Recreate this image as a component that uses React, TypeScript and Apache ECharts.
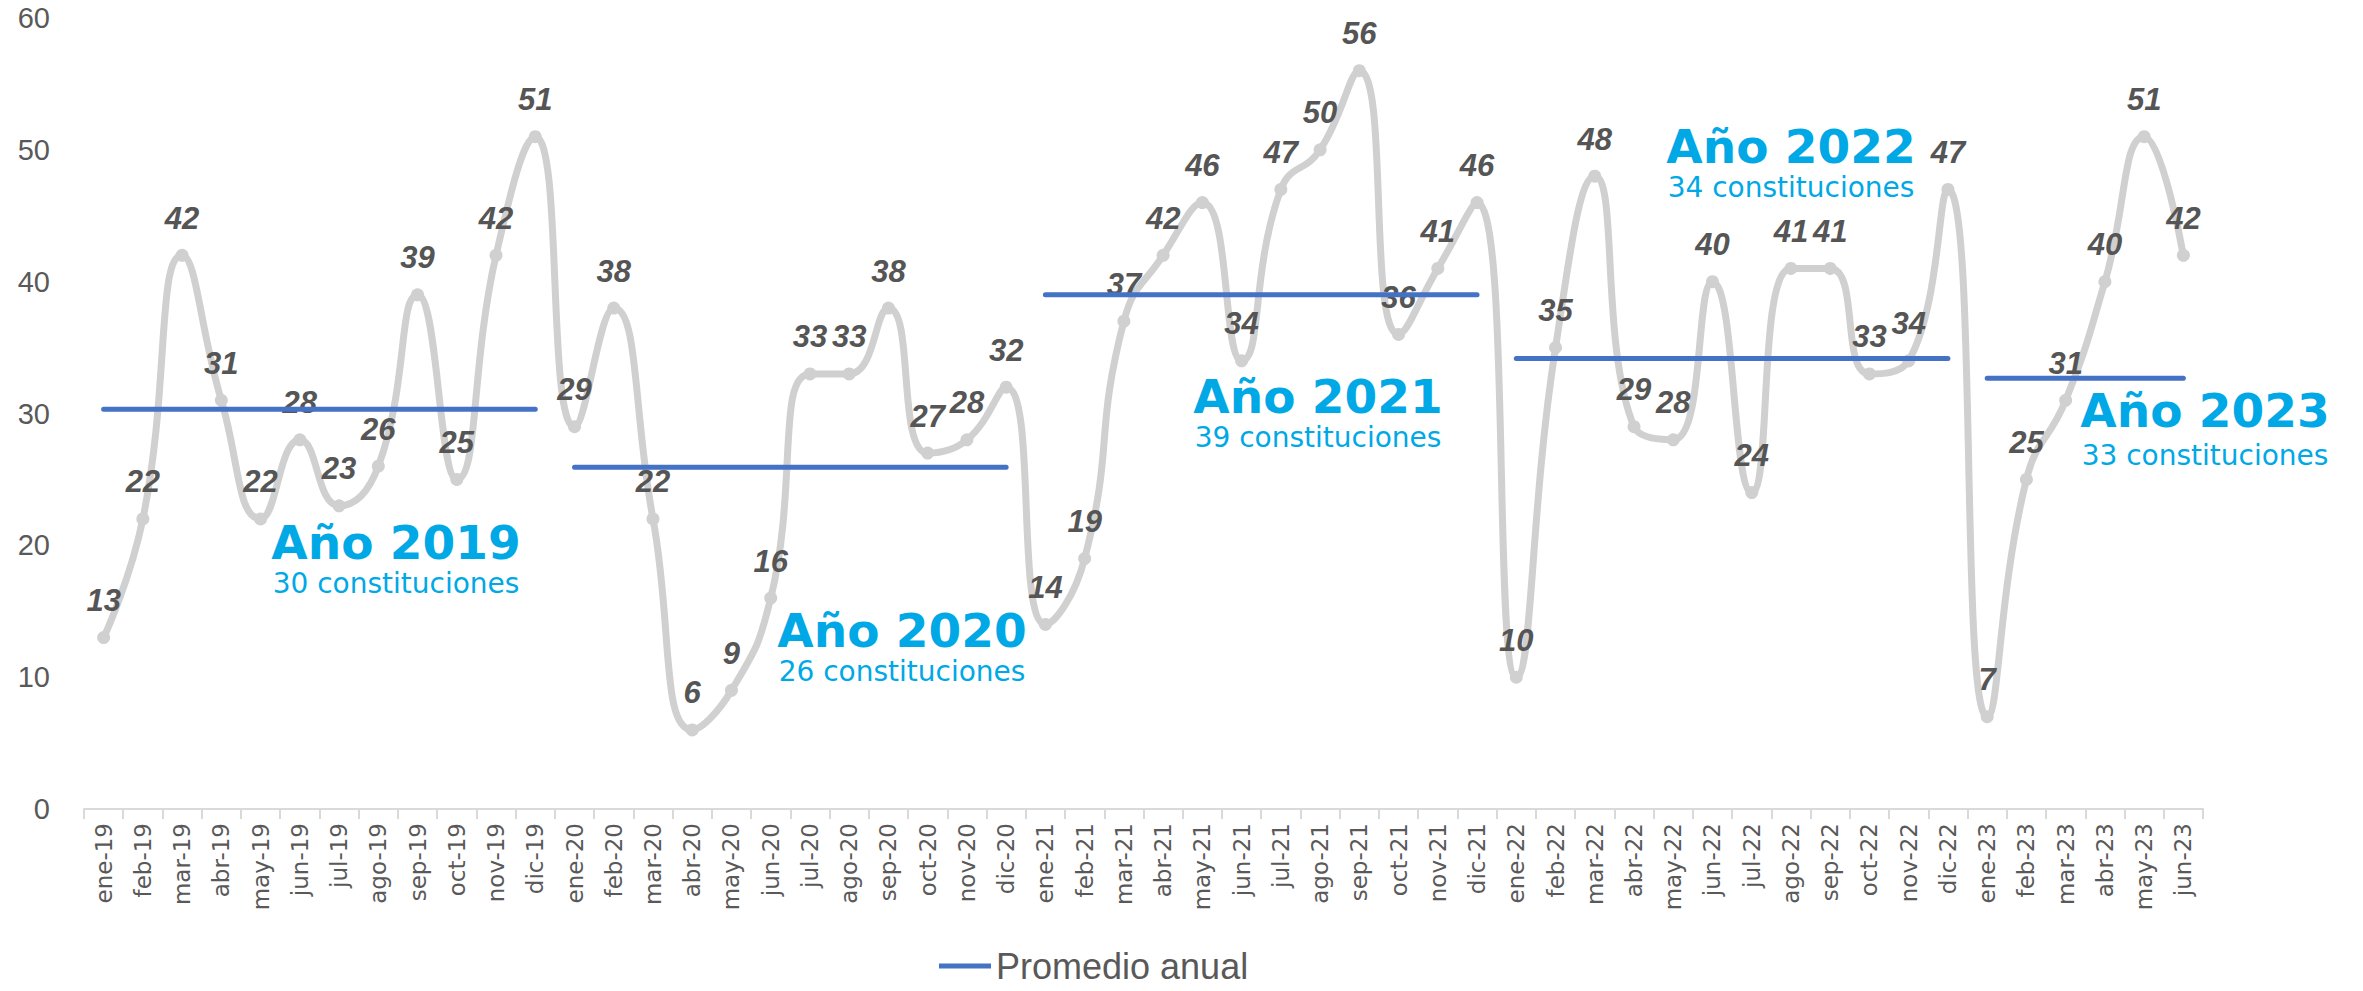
import React, { useEffect, useRef } from "react";
import * as echarts from "echarts";

const meses = [
  "ene-19","feb-19","mar-19","abr-19","may-19","jun-19","jul-19","ago-19","sep-19","oct-19","nov-19","dic-19",
  "ene-20","feb-20","mar-20","abr-20","may-20","jun-20","jul-20","ago-20","sep-20","oct-20","nov-20","dic-20",
  "ene-21","feb-21","mar-21","abr-21","may-21","jun-21","jul-21","ago-21","sep-21","oct-21","nov-21","dic-21",
  "ene-22","feb-22","mar-22","abr-22","may-22","jun-22","jul-22","ago-22","sep-22","oct-22","nov-22","dic-22",
  "ene-23","feb-23","mar-23","abr-23","may-23","jun-23",
];

const constituciones = [
  13, 22, 42, 31, 22, 28, 23, 26, 39, 25, 42, 51,
  29, 38, 22, 6, 9, 16, 33, 33, 38, 27, 28, 32,
  14, 19, 37, 42, 46, 34, 47, 50, 56, 36, 41, 46,
  10, 35, 48, 29, 28, 40, 24, 41, 41, 33, 34, 47,
  7, 25, 31, 40, 51, 42,
];

const anios = ["Año 2019", "Año 2020", "Año 2021", "Año 2022", "Año 2023"];
const promedioAnual = [30.33, 25.92, 39.0, 34.17, 32.67];
const inicioAnio = [0, 12, 24, 36, 48];
const mesesPorAnio = [12, 12, 12, 12, 6];
const subtitulos = [
  "30 constituciones",
  "26 constituciones",
  "39 constituciones",
  "34 constituciones",
  "33 constituciones",
];

// annotation placement (pixels) — layout only
const annotPos = [
  { x: 396, ty: 542, sy: 583 },
  { x: 902, ty: 630, sy: 671 },
  { x: 1318, ty: 396, sy: 437 },
  { x: 1791, ty: 146, sy: 187 },
  { x: 2205, ty: 410, sy: 455 },
];

export default function App() {
  const ref = useRef<HTMLDivElement>(null);

  useEffect(() => {
    if (!ref.current) return;
    const chart = echarts.init(ref.current, null, { renderer: "svg" });

    const avgSeries = anios.map((a, i) => {
      const data: (number | null)[] = meses.map(() => null);
      for (let k = 0; k < mesesPorAnio[i]; k++) data[inicioAnio[i] + k] = promedioAnual[i];
      return {
        name: "Promedio anual",
        type: "line",
        data,
        symbol: "none",
        connectNulls: false,
        z: 3,
        lineStyle: { color: "#4472C4", width: 5, cap: "round" },
        itemStyle: { color: "#4472C4" },
      };
    });

    const graphics: any[] = [];
    anios.forEach((a, i) => {
      graphics.push({
        type: "text",
        x: annotPos[i].x,
        y: annotPos[i].ty,
        z: 10,
        style: {
          text: a,
          fill: "#00A8E6",
          fontFamily: "DejaVu Sans",
          fontWeight: "bold",
          fontSize: 47,
          textAlign: "center",
          textVerticalAlign: "middle",
        },
      });
      graphics.push({
        type: "text",
        x: annotPos[i].x,
        y: annotPos[i].sy,
        z: 10,
        style: {
          text: subtitulos[i],
          fill: "#00A8E6",
          fontFamily: "DejaVu Sans",
          fontSize: 28,
          textAlign: "center",
          textVerticalAlign: "middle",
        },
      });
    });

    chart.setOption({
      animation: false,
      backgroundColor: "#ffffff",
      grid: { left: 84, right: 160, top: 18, bottom: 182, containLabel: false },
      legend: {
        data: [{ name: "Promedio anual", icon: "rect" }],
        left: 934,
        bottom: 2,
        itemWidth: 52,
        itemHeight: 5,
        itemGap: 8,
        textStyle: { fontFamily: "Liberation Sans", fontSize: 36, color: "#595959" },
      },
      xAxis: {
        type: "category",
        data: meses,
        boundaryGap: true,
        axisLine: { show: true, lineStyle: { color: "#D9D9D9", width: 2 } },
        axisTick: { show: true, length: 10, lineStyle: { color: "#D9D9D9", width: 2 } },
        axisLabel: {
          rotate: 90,
          interval: 0,
          margin: 14,
          fontFamily: "DejaVu Sans",
          fontSize: 23,
          color: "#595959",
        },
        splitLine: { show: false },
      },
      yAxis: {
        type: "value",
        min: 0,
        max: 60,
        interval: 10,
        axisLine: { show: false },
        axisTick: { show: false },
        splitLine: { show: false },
        axisLabel: {
          margin: 34,
          fontFamily: "Liberation Sans",
          fontSize: 29,
          color: "#595959",
        },
      },
      series: [
        {
          name: "Constituciones",
          type: "line",
          data: constituciones,
          smooth: 0.5,
          symbol: "circle",
          symbolSize: 13,
          z: 2,
          lineStyle: { color: "#D0D0D0", width: 7 },
          itemStyle: { color: "#D0D0D0" },
          label: {
            show: true,
            position: "top",
            distance: 15,
            fontFamily: "Liberation Sans",
            fontStyle: "italic",
            fontWeight: "bold",
            fontSize: 31,
            color: "#555555",
          },
        },
        ...avgSeries,
      ],
      graphic: graphics,
    });

    return () => chart.dispose();
  }, []);

  return (
    <div
      ref={ref}
      style={{ position: "fixed", left: 0, top: 0, width: 2363, height: 991 }}
    />
  );
}
